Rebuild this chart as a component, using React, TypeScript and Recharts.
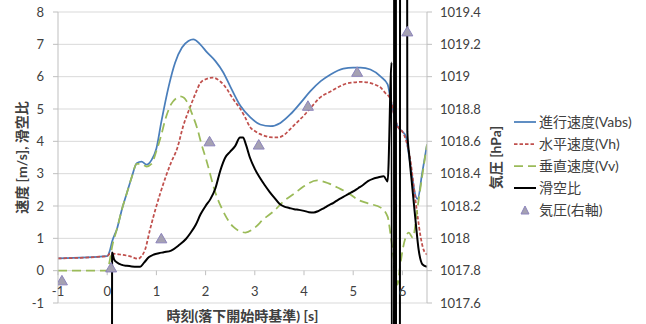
import { CartesianGrid, ComposedChart, Line, ReferenceLine, Scatter, XAxis, YAxis } from 'recharts'

const xTicks = [-1, 0, 1, 2, 3, 4, 5, 6]
const leftTicks = [-1, 0, 1, 2, 3, 4, 5, 6, 7, 8]
const rightTicks = [1017.6, 1017.8, 1018, 1018.2, 1018.4, 1018.6, 1018.8, 1019, 1019.2, 1019.4]

// 進行速度(Vabs)
const vabsTime = [-1, 0, 0.05, 0.1, 0.2, 0.3, 0.4, 0.5, 0.6, 0.7, 0.8, 0.9, 1.0, 1.1, 1.25, 1.38, 1.52, 1.65, 1.75, 1.89, 2.03, 2.2, 2.36, 2.5, 2.71, 2.91, 3.11, 3.32, 3.52, 3.72, 3.93, 4.13, 4.34, 4.54, 4.8, 5.0, 5.15, 5.35, 5.56, 5.7, 5.76, 5.82, 5.9, 6.0, 6.07, 6.12, 6.2, 6.27, 6.31, 6.4, 6.5]
const vabs = [0.38, 0.45, 0.6, 0.9, 1.3, 1.9, 2.4, 2.9, 3.32, 3.37, 3.28, 3.42, 3.78, 4.6, 5.7, 6.43, 6.9, 7.1, 7.15, 7.0, 6.75, 6.48, 6.13, 5.7, 5.09, 4.74, 4.52, 4.47, 4.57, 4.83, 5.19, 5.55, 5.86, 6.07, 6.25, 6.28, 6.28, 6.22, 6.0, 5.76, 5.3, 4.9, 4.47, 4.3, 4.15, 3.7, 2.9, 2.3, 2.22, 3.0, 3.9]

// 水平速度(Vh)
const vhTime = [-1, 0, 0.06, 0.26, 0.45, 0.63, 0.7, 0.77, 0.87, 1.0, 1.08, 1.2, 1.3, 1.42, 1.55, 1.69, 1.8, 1.89, 2.0, 2.14, 2.3, 2.44, 2.5, 2.6, 2.7, 2.8, 2.91, 3.0, 3.1, 3.2, 3.3, 3.46, 3.6, 3.7, 3.8, 3.9, 4.0, 4.07, 4.2, 4.3, 4.4, 4.54, 4.7, 4.85, 5.0, 5.15, 5.3, 5.45, 5.56, 5.65, 5.72, 5.76, 5.82, 5.9, 6.0, 6.07, 6.17, 6.23, 6.31, 6.37, 6.43, 6.5]
const vh = [0.38, 0.45, 0.53, 0.5, 0.45, 0.37, 0.45, 0.65, 1.27, 2.0, 2.4, 2.95, 3.35, 3.77, 4.5, 5.08, 5.5, 5.8, 5.92, 5.97, 5.85, 5.6, 5.45, 5.22, 5.02, 4.75, 4.43, 4.32, 4.23, 4.17, 4.13, 4.12, 4.2, 4.35, 4.5, 4.65, 4.8, 4.92, 5.15, 5.32, 5.43, 5.54, 5.68, 5.78, 5.82, 5.84, 5.82, 5.75, 5.66, 5.5, 5.4, 5.3, 4.9, 4.47, 4.3, 4.05, 3.34, 2.6, 1.67, 1.05, 0.65, 0.5]

// 垂直速度(Vv)
const vvTime = [-1, 0, 0.05, 0.1, 0.2, 0.3, 0.4, 0.5, 0.6, 0.7, 0.8, 0.9, 1.0, 1.1, 1.18, 1.3, 1.4, 1.48, 1.56, 1.62, 1.7, 1.75, 1.83, 1.9, 2.03, 2.2, 2.34, 2.56, 2.81, 3.0, 3.17, 3.4, 3.58, 3.8, 3.99, 4.27, 4.5, 4.68, 4.9, 5.09, 5.3, 5.56, 5.7, 5.76, 5.82, 5.86, 5.9, 5.95, 6.0, 6.07, 6.13, 6.21, 6.31, 6.4, 6.5]
const vv = [0, 0, 0.3, 0.74, 1.3, 1.9, 2.4, 2.9, 3.3, 3.3, 3.22, 3.3, 3.7, 4.2, 4.67, 5.15, 5.33, 5.39, 5.35, 5.23, 4.95, 4.75, 4.4, 4.0, 3.34, 2.41, 1.89, 1.36, 1.18, 1.33, 1.58, 1.86, 2.14, 2.38, 2.6, 2.79, 2.7, 2.57, 2.4, 2.2, 2.08, 1.95, 1.67, 1.1, 0.43, 0, -0.43, 0.1, 0.6, 1.05, 1.18, 1.02, 1.98, 2.9, 3.9]

// 滑空比 (runs off the chart where Vv crosses zero)
const glideTime = [0.09, 0.1, 0.14, 0.2, 0.3, 0.4, 0.5, 0.6, 0.67, 0.75, 0.85, 0.95, 1.05, 1.15, 1.3, 1.45, 1.6, 1.7, 1.8, 1.9, 2.0, 2.1, 2.2, 2.3, 2.4, 2.5, 2.6, 2.7, 2.76, 2.82, 2.9, 3.0, 3.1, 3.2, 3.3, 3.4, 3.5, 3.6, 3.7, 3.8, 3.9, 4.0, 4.1, 4.2, 4.3, 4.4, 4.5, 4.6, 4.7, 4.8, 4.9, 5.0, 5.1, 5.2, 5.3, 5.4, 5.5, 5.62, 5.7, 5.78, 5.81, 5.85, 5.89, 5.93, 5.97, 6.06, 6.1, 6.14, 6.2, 6.27, 6.33, 6.41, 6.5]
const glide = [-60, 0.56, 0.35, 0.25, 0.18, 0.15, 0.13, 0.12, 0.12, 0.25, 0.42, 0.5, 0.54, 0.57, 0.62, 0.78, 0.98, 1.18, 1.42, 1.75, 2.0, 2.22, 2.55, 3.1, 3.5, 3.68, 3.85, 4.12, 4.12, 3.9, 3.5, 3.15, 2.88, 2.65, 2.44, 2.25, 2.07, 1.98, 1.94, 1.9, 1.88, 1.85, 1.81, 1.8, 1.85, 1.93, 2.02, 2.1, 2.2, 2.28, 2.37, 2.45, 2.55, 2.65, 2.77, 2.84, 2.88, 2.92, 2.76, 6.44, -60, 60, -60, -60, 60, 60, 4.3, 3.55, 2.6, 1.5, 0.65, 0.19, 0.12]

// 気圧(右軸)
const pressTime = [-0.92, 0.08, 1.1, 2.08, 3.08, 4.08, 5.08, 6.1]
const pressure = [1017.74, 1017.82, 1018.0, 1018.6, 1018.58, 1018.82, 1019.03, 1019.28]

const toRows = (ts: number[], vs: number[]) => ts.map((t, i) => ({ t, v: vs[i] }))

const series = [
  { name: '進行速度(Vabs)', data: toRows(vabsTime, vabs), color: '#4A7EBB', dash: undefined, width: 1.75 },
  { name: '水平速度(Vh)', data: toRows(vhTime, vh), color: '#C0504D', dash: '3.5 2', width: 1.75 },
  { name: '垂直速度(Vv)', data: toRows(vvTime, vv), color: '#9BBB59', dash: '9 5', width: 1.75 },
  { name: '滑空比', data: toRows(glideTime, glide), color: '#000000', dash: undefined, width: 2 },
]
const pressureData = pressTime.map((t, i) => ({ t, p: pressure[i] }))

const FONT = "Lato, 'Noto Sans CJK JP', sans-serif"
const TEXT = '#404040'
const GRID = '#D9D9D9'
const AXIS = '#BFBFBF'
const TRI_FILL = '#A5A1B2'
const TRI_STROKE = '#8C84BC'

function XTick({ x, y, payload }: any) {
  return (
    <text x={x} y={y} dy={-7} textAnchor="middle" fontSize={13} fill={TEXT}>
      {payload.value}
    </text>
  )
}

function Triangle({ cx, cy }: any) {
  return (
    <polygon
      points={`${cx},${cy - 5} ${cx + 5.5},${cy + 4.5} ${cx - 5.5},${cy + 4.5}`}
      fill={TRI_FILL}
      stroke={TRI_STROKE}
      strokeWidth={1}
    />
  )
}

function LegendBox() {
  return (
    <div style={{ position: 'absolute', left: 513, top: 111, fontSize: 14, color: TEXT, lineHeight: '22px' }}>
      {series.map((s) => (
        <div key={s.name} style={{ display: 'flex', alignItems: 'center', height: 22 }}>
          <svg width={24} height={10} style={{ marginRight: 2 }}>
            <line x1={1} y1={5} x2={23} y2={5} stroke={s.color} strokeWidth={s.width} strokeDasharray={s.dash} />
          </svg>
          <span>{s.name}</span>
        </div>
      ))}
      <div style={{ display: 'flex', alignItems: 'center', height: 22 }}>
        <svg width={24} height={10} style={{ marginRight: 2 }}>
          <polygon points="12,1 16,9 8,9" fill={TRI_FILL} stroke={TRI_STROKE} strokeWidth={1} />
        </svg>
        <span>気圧(右軸)</span>
      </div>
    </div>
  )
}

export default function App() {
  return (
    <div
      style={{
        position: 'absolute',
        left: 0,
        top: 0,
        width: 646,
        height: 324,
        background: '#fff',
        fontFamily: FONT,
      }}
    >
      <style>{'.glide-line, .glide-line * { clip-path: none !important; }'}</style>
      <ComposedChart width={646} height={324} margin={{ top: 12, right: 139, bottom: 0, left: 0 }}>
        <CartesianGrid yAxisId="left" vertical={false} stroke={GRID} />
        <XAxis
          dataKey="t"
          type="number"
          domain={[-1, 6.5]}
          ticks={xTicks}
          allowDataOverflow
          axisLine={false}
          tickLine={false}
          tickSize={0}
          tickMargin={0}
          height={21}
          tick={<XTick />}
          label={{
            value: '時刻(落下開始時基準) [s]',
            position: 'insideBottom',
            offset: 3,
            style: { fontSize: 14, fontWeight: 700, fill: TEXT },
          }}
        />
        <YAxis
          yAxisId="left"
          type="number"
          domain={[-1, 8]}
          ticks={leftTicks}
          allowDataOverflow
          width={58}
          axisLine={{ stroke: AXIS }}
          tickLine={{ stroke: AXIS }}
          tickSize={5}
          tickMargin={9}
          tick={{ fontSize: 13, fill: TEXT }}
          label={{
            value: '速度 [m/s], 滑空比',
            angle: -90,
            position: 'insideLeft',
            offset: 22,
            style: { textAnchor: 'middle', fontSize: 14, fontWeight: 700, fill: TEXT },
          }}
        />
        <YAxis
          yAxisId="right"
          orientation="right"
          type="number"
          domain={[1017.6, 1019.4]}
          ticks={rightTicks}
          allowDataOverflow
          width={80}
          axisLine={{ stroke: AXIS }}
          tickLine={{ stroke: AXIS }}
          tickSize={5}
          tickMargin={8}
          tick={{ fontSize: 13, fill: TEXT }}
          tickFormatter={(v: number) => String(Number(v.toFixed(1)))}
          label={{
            value: '気圧 [hPa]',
            angle: -90,
            position: 'insideRight',
            offset: 11,
            style: { textAnchor: 'middle', fontSize: 14, fontWeight: 700, fill: TEXT },
          }}
        />
        {xTicks.map((t) => (
          <ReferenceLine
            key={t}
            yAxisId="left"
            segment={[
              { x: t, y: 0 },
              { x: t, y: -0.14 },
            ]}
            stroke={AXIS}
          />
        ))}
        {series.map((s, i) => (
          <Line
            key={s.name}
            yAxisId="left"
            data={s.data}
            dataKey="v"
            type="monotone"
            stroke={s.color}
            strokeWidth={s.width}
            strokeDasharray={s.dash}
            dot={false}
            activeDot={false}
            isAnimationActive={false}
            className={i === 3 ? 'glide-line' : undefined}
          />
        ))}
        <Scatter
          yAxisId="right"
          data={pressureData}
          dataKey="p"
          shape={<Triangle />}
          isAnimationActive={false}
        />
      </ComposedChart>
      <LegendBox />
    </div>
  )
}
